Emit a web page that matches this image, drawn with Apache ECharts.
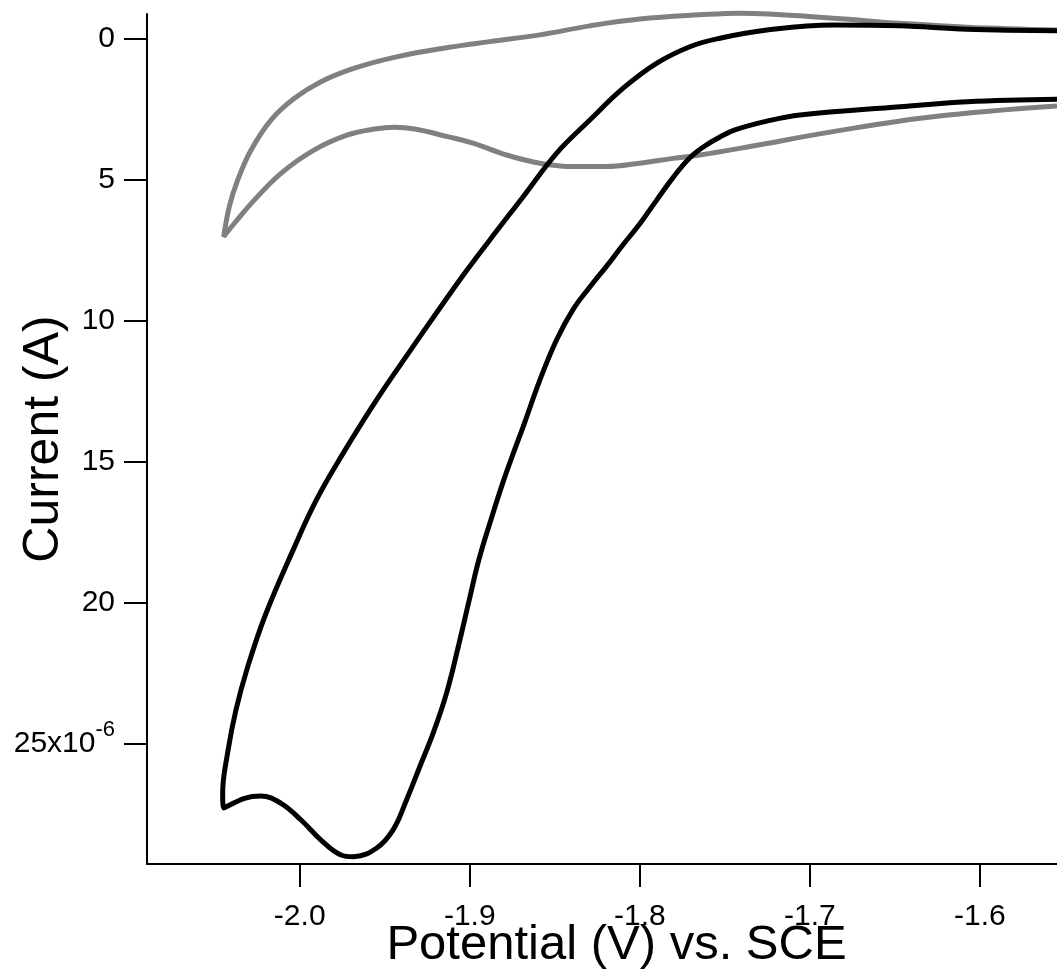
<!DOCTYPE html>
<html>
<head>
<meta charset="utf-8">
<script src="https://cdn.jsdelivr.net/npm/echarts@6/dist/echarts.min.js"></script>
<style>html,body{margin:0;padding:0;background:#fff}#c{width:1057px;height:974px}</style>
</head>
<body>
<div id="c"></div>
<script>
// Tick labels
const xTicks = [-2.0, -1.9, -1.8, -1.7, -1.6];
const yTicks = [0, 5, 10, 15, 20, 25];

// Gray voltammogram: potential (V vs SCE) and current (units of 1e-6 A)
const grayPotential = [-1.5547, -1.6076, -1.6471, -1.6865, -1.7412, -1.7647, -1.8000, -1.8294, -1.8588, -1.8882,
  -1.9129, -1.9424, -1.9678, -1.9875, -2.0031, -2.0169, -2.0286, -2.0365, -2.0414, -2.0447,
  -2.0384, -2.0266, -2.0110, -1.9914, -1.9718, -1.9559, -1.9441, -1.9324, -1.9129, -1.8981,
  -1.8784, -1.8588, -1.8392, -1.8196, -1.8000, -1.7804, -1.7647, -1.7353, -1.6865, -1.6276, -1.5547];
const grayCurrent = [-0.29, -0.39, -0.53, -0.71, -0.89, -0.83, -0.68, -0.44, -0.12, 0.12,
  0.33, 0.65, 1.06, 1.54, 2.13, 2.90, 3.96, 5.03, 5.97, 7.04,
  6.56, 5.73, 4.79, 3.96, 3.43, 3.22, 3.16, 3.22, 3.49, 3.72,
  4.14, 4.43, 4.55, 4.55, 4.43, 4.26, 4.14, 3.84, 3.31, 2.78, 2.40];

// Black voltammogram: potential (V vs SCE) and current (units of 1e-6 A)
const blackPotential = [-1.5547, -1.6076, -1.6471, -1.6865, -1.7253, -1.7529, -1.7706, -1.7902, -1.8098, -1.8294,
  -1.8490, -1.8686, -1.8882, -1.9059, -1.9347, -1.9549, -1.9745, -1.9902, -2.0039, -2.0202,
  -2.0306, -2.0375, -2.0424, -2.0453, -2.0447, -2.0325, -2.0228, -2.0110, -1.9992, -1.9875,
  -1.9757, -1.9686, -1.9549, -1.9451, -1.9372, -1.9294, -1.9216, -1.9137, -1.9065, -1.9006,
  -1.8947, -1.8876, -1.8800, -1.8741, -1.8682, -1.8588, -1.8490, -1.8394, -1.8294, -1.8194,
  -1.8100, -1.8000, -1.7900, -1.7806, -1.7706, -1.7618, -1.7529, -1.7441, -1.7253, -1.7059,
  -1.6471, -1.6076, -1.5547];
const blackCurrent = [-0.27, -0.32, -0.44, -0.47, -0.29, 0.00, 0.30, 0.89, 1.77, 2.90,
  4.08, 5.62, 7.15, 8.57, 11.05, 12.83, 14.72, 16.37, 18.15, 20.45,
  22.29, 23.82, 25.34, 26.76, 27.29, 26.95, 26.87, 27.13, 27.72, 28.43,
  28.96, 29.02, 28.72, 28.07, 27.01, 25.83, 24.65, 23.23, 21.51, 19.99,
  18.50, 17.08, 15.66, 14.67, 13.71, 12.12, 10.70, 9.63, 8.82, 8.07,
  7.33, 6.58, 5.73, 4.95, 4.24, 3.82, 3.50, 3.25, 2.94, 2.72,
  2.43, 2.25, 2.16];

function pairs(xs, ys) { return xs.map((x, i) => [x, ys[i]]); }

const FONT = 'Liberation Sans';
const chart = echarts.init(document.getElementById('c'), null, {renderer: 'canvas'});
chart.setOption({
  animation: false,
  backgroundColor: '#ffffff',
  grid: {left: 147, top: 14, right: 0, bottom: 110, containLabel: false, outerBoundsMode: 'none'},
  xAxis: {
    type: 'value', min: -2.0898, max: -1.5547,
    axisLine: {show: true, onZero: false, lineStyle: {color: '#000', width: 2}},
    axisTick: {show: true, inside: false, length: 23, lineStyle: {color: '#000', width: 2}, customValues: xTicks},
    axisLabel: {customValues: xTicks, formatter: v => v.toFixed(1), fontFamily: FONT, fontSize: 30, color: '#000', margin: 38},
    splitLine: {show: false},
    name: 'Potential (V) vs. SCE', nameLocation: 'middle', nameGap: 57, nameMoveOverlap: false,
    nameTextStyle: {fontFamily: FONT, fontSize: 49, color: '#000', padding: [0, 0, 0, 29]}
  },
  yAxis: {
    type: 'value', inverse: true, min: -0.86, max: 29.28,
    axisLine: {show: true, onZero: false, lineStyle: {color: '#000', width: 2}},
    axisTick: {show: true, inside: false, length: 23, lineStyle: {color: '#000', width: 2}, customValues: yTicks},
    axisLabel: {
      customValues: yTicks, margin: 32, fontFamily: FONT, fontSize: 30, color: '#000',
      formatter: v => (v === 25 ? '{b|25x10}{s|-6}' : String(v)),
      rich: {
        b: {fontFamily: FONT, fontSize: 30, lineHeight: 48, color: '#000'},
        s: {fontFamily: FONT, fontSize: 22, lineHeight: 22, verticalAlign: 'top', color: '#000'}
      }
    },
    splitLine: {show: false},
    name: 'Current (A)', nameLocation: 'middle', nameGap: 78, nameMoveOverlap: false,
    nameTextStyle: {fontFamily: FONT, fontSize: 50, color: '#000'}
  },
  series: [
    {type: 'line', data: pairs(grayPotential, grayCurrent), symbol: 'none', showSymbol: false,
     smooth: 0.4, clip: false, z: 2, lineStyle: {color: '#808080', width: 5}},
    {type: 'line', data: pairs(blackPotential, blackCurrent), symbol: 'none', showSymbol: false,
     smooth: 0.4, clip: false, z: 3, lineStyle: {color: '#000000', width: 5}}
  ]
});
</script>
</body>
</html>
